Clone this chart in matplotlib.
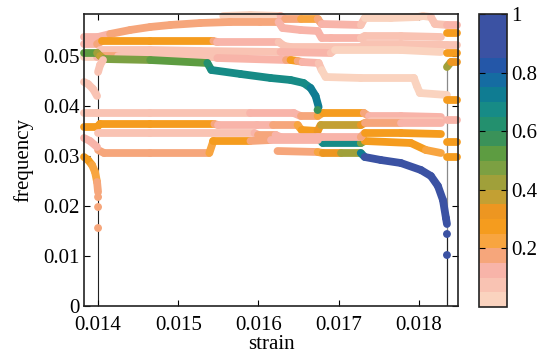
import matplotlib
matplotlib.use('Agg')
import matplotlib.pyplot as plt
from matplotlib.collections import LineCollection
from matplotlib.colors import ListedColormap, Normalize
from matplotlib.cm import ScalarMappable
import numpy as np

plt.rcParams['font.family'] = ['Liberation Serif', 'DejaVu Serif']

# colour scale (20 levels)
level_colors = ['#FAD3BF', '#F9C3B3', '#F8B4A9', '#F6A67B', '#F8A540', '#F59C1E', '#ED9621',
                '#C3A033', '#A0A03A', '#7CA042', '#5D9C41', '#3A9259', '#23906E', '#178B86',
                '#0F7C92', '#156CA2', '#2457A8', '#3B52A3', '#3B52A3', '#3B52A3']
cbar_ticks = [0.2, 0.4, 0.6, 0.8, 1]
cbar_labels = ['0.2', '0.4', '0.6', '0.8', '1']

# branches: strain, frequency, colour value
t1_strain = [0.01556, 0.0159, 0.016275, 0.016325, 0.016525, 0.0167375, 0.0167875, 0.017275, 0.017325,
             0.01765, 0.0179875, 0.01805, 0.01815, 0.0182, 0.01835]
t1_freq = [0.058, 0.0582, 0.058, 0.0574, 0.0574, 0.0574, 0.0564, 0.0562, 0.0576, 0.0576, 0.0578, 0.058,
           0.0578, 0.0564, 0.0562]
t1_val = [0.03, 0.03, 0.03, 0.17, 0.2, 0.2, 0.1, 0.1, 0.04, 0.04, 0.04, 0.04, 0.04, 0.06, 0.06]

t2_strain = [0.013825, 0.014, 0.01415, 0.0144, 0.01465, 0.0149, 0.015275, 0.01565, 0.016025, 0.01625,
             0.0163, 0.016525, 0.0167375, 0.0167875, 0.0169, 0.017275, 0.017325, 0.017775, 0.018275]
t2_freq = [0.0538, 0.0538, 0.0544, 0.0552, 0.0558, 0.0562, 0.0566, 0.0568, 0.0568, 0.0568, 0.0556,
           0.0552, 0.055, 0.0536, 0.0536, 0.0536, 0.054, 0.054, 0.0538]
t2_val = [0.1, 0.12, 0.17, 0.17, 0.17, 0.17, 0.17, 0.17, 0.17, 0.17, 0.12, 0.12, 0.12, 0.1, 0.1, 0.1,
          0.07, 0.07, 0.07]

t3_strain = [0.013825, 0.0139875, 0.01405, 0.01465, 0.0154375, 0.0154875, 0.01625, 0.016325, 0.0164,
             0.017275, 0.017325, 0.017775, 0.01835]
t3_freq = [0.0524, 0.0524, 0.053, 0.053, 0.053, 0.0528, 0.0528, 0.052, 0.0518, 0.0518, 0.0524, 0.0524, 0.0522]
t3_val = [0.12, 0.12, 0.27, 0.27, 0.27, 0.12, 0.12, 0.05, 0.05, 0.05, 0.05, 0.05, 0.05]

t4_strain = [0.014025, 0.01465, 0.015275, 0.016275, 0.0169, 0.01695, 0.017775, 0.018275]
t4_freq = [0.0512, 0.0512, 0.051, 0.0508, 0.0506, 0.0512, 0.0512, 0.0508]
t4_val = [0.07, 0.07, 0.06, 0.1, 0.1, 0.04, 0.04, 0.04]

t5_strain = [0.013825, 0.0139875, 0.014075, 0.01425, 0.0154375, 0.0154875, 0.0163375, 0.0164, 0.0164875,
             0.01655, 0.01675, 0.0167875, 0.0168375, 0.017275, 0.0179375, 0.017975, 0.0180125, 0.01835]
t5_freq = [0.0498, 0.0498, 0.05, 0.05, 0.0498, 0.0496, 0.0492, 0.0492, 0.049, 0.0488, 0.0486, 0.0472,
           0.0458, 0.0456, 0.0456, 0.044, 0.0426, 0.0422]
t5_val = [0.04, 0.04, 0.25, 0.06, 0.06, 0.1, 0.1, 0.27, 0.27, 0.12, 0.12, 0.05, 0.03, 0.03, 0.03, 0.03,
          0.03, 0.03]

# green / teal mode, upper part and lower part
g_strain = [0.013825, 0.0139875, 0.014025, 0.014075, 0.01465, 0.0153625, 0.0154125, 0.015775, 0.01615,
            0.0164, 0.0165625, 0.01665, 0.0167125, 0.01675]
g_freq = [0.0506, 0.0506, 0.05, 0.0494, 0.0492, 0.0486, 0.0472, 0.0464, 0.0456, 0.0452, 0.0446, 0.0436,
          0.042, 0.0398]
g_val = [0.52, 0.52, 0.3, 0.48, 0.5, 0.55, 0.67, 0.67, 0.67, 0.68, 0.68, 0.7, 0.7, 0.7]

g2_strain = [0.0167375, 0.0168, 0.017275, 0.017325, 0.0179, 0.0180875, 0.018275]
g2_freq = [0.0338, 0.0326, 0.0326, 0.033, 0.0326, 0.0312, 0.0306]
g2_val = [0.68, 0.68, 0.68, 0.27, 0.27, 0.25, 0.15]

m1_strain = [0.013825, 0.0139875, 0.01465, 0.0159, 0.0164375, 0.016525, 0.0167375, 0.0168, 0.0173125,
             0.017375, 0.017775, 0.018275]
m1_freq = [0.0386, 0.0386, 0.0386, 0.0386, 0.0386, 0.038, 0.038, 0.0386, 0.0386, 0.038, 0.038, 0.0378]
m1_val = [0.08, 0.08, 0.08, 0.1, 0.1, 0.17, 0.17, 0.27, 0.27, 0.12, 0.12, 0.12]

r1_strain = [0.0174, 0.018275]
r1_freq = [0.037, 0.037]
r1_val = [0.09, 0.09]

m2_strain = [0.013825, 0.0139875, 0.014025, 0.01465, 0.01545, 0.0155, 0.0159875, 0.016175, 0.0164875,
             0.0165375, 0.0167375, 0.016775, 0.017275, 0.017325, 0.017775, 0.018275]
m2_freq = [0.0358, 0.0358, 0.0364, 0.0364, 0.0364, 0.0362, 0.0362, 0.0362, 0.0362, 0.0352, 0.035,
           0.0362, 0.0362, 0.0366, 0.0366, 0.0366]
m2_val = [0.25, 0.25, 0.27, 0.27, 0.27, 0.12, 0.12, 0.17, 0.17, 0.27, 0.27, 0.38, 0.38, 0.27, 0.12, 0.12]

m3_strain = [0.014, 0.01465, 0.01595, 0.016, 0.0162125, 0.016275, 0.0167375, 0.0168, 0.017275, 0.017325,
             0.017775, 0.018275]
m3_freq = [0.0346, 0.0346, 0.0346, 0.0342, 0.0342, 0.0338, 0.0338, 0.0338, 0.0338, 0.0346, 0.0346, 0.0344]
m3_val = [0.05, 0.05, 0.05, 0.15, 0.15, 0.1, 0.1, 0.1, 0.1, 0.27, 0.27, 0.25]

m4_strain = [0.014, 0.014075, 0.01465, 0.0153875, 0.0154375, 0.0159, 0.01615, 0.0167375]
m4_freq = [0.0312, 0.0306, 0.0306, 0.0306, 0.033, 0.033, 0.0332, 0.0332]
m4_val = [0.17, 0.17, 0.17, 0.17, 0.25, 0.27, 0.12, 0.12]

m5_strain = [0.0162375, 0.0167375, 0.0168, 0.017025, 0.017275, 0.017325, 0.017525, 0.017775, 0.018025,
             0.01815, 0.0182375, 0.0183, 0.0183375, 0.01835]
m5_freq = [0.031, 0.0308, 0.0306, 0.0306, 0.0306, 0.0298, 0.0292, 0.0286, 0.0272, 0.026, 0.024, 0.0212,
           0.0176, 0.0164]
m5_val = [0.17, 0.17, 0.27, 0.38, 0.5, 0.9, 0.9, 0.9, 0.9, 0.9, 0.9, 0.9, 0.9, 0.9]

# short pieces at the left edge
p1_strain = [0.014, 0.014025, 0.0140625]
p1_freq = [0.0468, 0.0482, 0.0492]
p1_val = [0.08, 0.08, 0.08]
p2_strain = [0.013825, 0.013875, 0.0139375, 0.0139875]
p2_freq = [0.0448, 0.0444, 0.0434, 0.042]
p2_val = [0.05, 0.05, 0.05, 0.05]
p3_strain = [0.013825, 0.0139, 0.0139875]
p3_freq = [0.0336, 0.033, 0.0318]
p3_val = [0.1, 0.1, 0.1]
p4_strain = [0.013825, 0.013875, 0.013925, 0.0139625, 0.0139875, 0.014]
p4_freq = [0.0298, 0.0292, 0.0282, 0.0268, 0.0248, 0.0228]
p4_val = [0.27, 0.27, 0.25, 0.22, 0.2, 0.17]

# short pieces at the right edge
stub_strain = [0.01835, 0.018475]
stub_freq = [0.0562, 0.0546, 0.0522, 0.0506, 0.0412, 0.0372, 0.0328, 0.0298]
stub_val = [0.12, 0.27, 0.08, 0.27, 0.27, 0.1, 0.27, 0.27]
s5_strain = [0.01835, 0.0184, 0.018475]
s5_freq = [0.0478, 0.0488, 0.0488]
s5_val = [0.52, 0.3, 0.38]

# isolated end points
dot_strain = [0.014, 0.014, 0.014, 0.01835, 0.01835, 0.0167375]
dot_freq = [0.0218, 0.0198, 0.0156, 0.0144, 0.0102, 0.0392]
dot_val = [0.17, 0.17, 0.17, 0.9, 0.9, 0.55]

left_end = 0.014
right_end = 0.01835

branches = [(t1_strain, t1_freq, t1_val), (t2_strain, t2_freq, t2_val), (t3_strain, t3_freq, t3_val),
            (t4_strain, t4_freq, t4_val), (t5_strain, t5_freq, t5_val),
            (g_strain, g_freq, g_val), (g2_strain, g2_freq, g2_val),
            (m1_strain, m1_freq, m1_val), (r1_strain, r1_freq, r1_val), (m2_strain, m2_freq, m2_val),
            (m3_strain, m3_freq, m3_val), (m4_strain, m4_freq, m4_val),
            (p1_strain, p1_freq, p1_val), (p2_strain, p2_freq, p2_val), (p3_strain, p3_freq, p3_val),
            (p4_strain, p4_freq, p4_val), (s5_strain, s5_freq, s5_val),
            (m5_strain, m5_freq, m5_val)]
for f, v in zip(stub_freq, stub_val):
    branches.append((stub_strain, [f, f], [v, v]))

cmap = ListedColormap(level_colors)
norm = Normalize(0, 1)

fig = plt.figure(figsize=(5.4, 3.56), dpi=100)
ax = fig.add_axes([0.1556, 0.1404, 0.6926, 0.8203])

# vertical drop lines at both ends
ax.plot([left_end, left_end], [0, 0.0472], color='#222222', lw=0.8, zorder=1)
ax.plot([right_end, right_end], [0, 0.0478], color='#8a8a8a', lw=0.9, zorder=1)
ax.plot([right_end, right_end], [0, 0.0144], color='#222222', lw=0.8, zorder=1)

for xs, ys, vs in branches:
    pts = np.column_stack([xs, ys])
    segs = np.stack([pts[:-1], pts[1:]], axis=1)
    vals = (np.array(vs[:-1]) + np.array(vs[1:])) / 2
    lc = LineCollection(segs, array=vals, cmap=cmap, norm=norm, linewidths=5.6,
                        capstyle='round', joinstyle='round', clip_on=False, zorder=2)
    ax.add_collection(lc)

ax.scatter(dot_strain, dot_freq, c=dot_val, cmap=cmap, norm=norm, s=32, linewidths=0,
           zorder=3, clip_on=False)

ax.set_xlim(0.013825, 0.018488)
ax.set_ylim(0, 0.0584)
ax.set_xticks([0.014, 0.015, 0.016, 0.017, 0.018])
ax.set_xticklabels(['0.014', '0.015', '0.016', '0.017', '0.018'])
ax.set_yticks([0, 0.01, 0.02, 0.03, 0.04, 0.05])
ax.set_yticklabels(['0', '0.01', '0.02', '0.03', '0.04', '0.05'])
ax.tick_params(direction='in', top=True, right=True, length=4, width=0.8, labelsize=15)
ax.tick_params(axis='x', pad=7)
ax.tick_params(axis='y', pad=3)
for s in ax.spines.values():
    s.set_linewidth(1.2)
    s.set_color('#222222')
ax.set_xlabel('strain', fontsize=15, labelpad=0)
ax.set_ylabel('frequency', fontsize=15, labelpad=7)

cax = fig.add_axes([0.887, 0.1376, 0.0519, 0.823])
sm = ScalarMappable(norm=norm, cmap=cmap)
cb = fig.colorbar(sm, cax=cax, ticks=cbar_ticks)
cb.ax.set_yticklabels(cbar_labels)
cb.ax.tick_params(direction='in', left=True, right=True, length=4, width=0.8, labelsize=15, pad=3)
cb.outline.set_linewidth(1.2)
cb.outline.set_edgecolor('#222222')

fig.savefig('out.png', dpi=100)
